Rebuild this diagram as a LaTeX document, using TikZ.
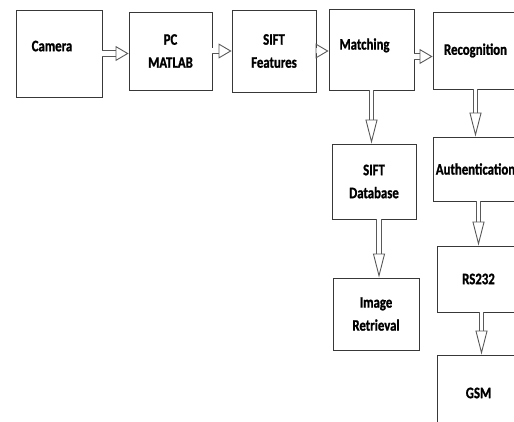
\documentclass[tikz,border=0pt]{standalone}
\usepackage{fontspec}
\newfontfamily\blockfont{Carlito Bold}[FakeStretch=0.8, FakeBold=1.2]
\usetikzlibrary{arrows.meta, positioning}
\definecolor{box_line}{rgb}{0.22, 0.22, 0.22}
\definecolor{arrow_line}{rgb}{0.35, 0.35, 0.35}

\begin{document}
\begin{tikzpicture}[x=1pt, y=-1pt,
    block/.style={draw=box_line, line width=0.9pt, rectangle, align=center, inner sep=0pt,
        font=\blockfont\fontsize{16}{23}\selectfont},
    harrow/.style={draw=arrow_line, line width=0.9pt, double, double distance=5pt,
        -{Triangle[open, length=13pt, width=15pt]}},
    varrow/.style={draw=arrow_line, line width=0.9pt, double, double distance=3.5pt,
        -{Triangle[open, length=24pt, width=12pt]}}]
    \useasboundingbox (0,0) rectangle (514,422);
    \clip (0,0) rectangle (514,422);
    % top row
    \node[block, minimum width=86pt, minimum height=87pt] (cam) at (59,53.5) {Camera\hspace*{14pt}\\[-8pt]};
    \node[block, minimum width=83pt, minimum height=78pt] (pc) at (170.5,51) {PC\\MATLAB};
    \node[block, minimum width=84pt, minimum height=82pt] (feat) at (274,51) {SIFT\\Features};
    \node[block, minimum width=85pt, minimum height=81pt] (match) at (371.5,49.5) {Matching\hspace*{14pt}\\[-12pt]};
    \node[block, minimum width=85pt, minimum height=77pt] (recog) at (475.5,50.5) {Recognition};
    % database branch
    \node[block, minimum width=84pt, minimum height=75pt] (db) at (374,181.5) {SIFT\\Database};
    \node[block, minimum width=86pt, minimum height=72pt] (ret) at (376,314) {Image\\Retrieval};
    % output branch
    \node[block, minimum width=85pt, minimum height=64pt] (auth) at (475.5,169) {Authentication};
    \node[block, minimum width=83pt, minimum height=66pt] (rs) at (478.5,279) {RS232};
    \node[block, minimum width=83pt, minimum height=76pt] (gsm) at (478.5,393) {GSM};

    \draw[harrow] (cam.east) -- (pc.west |- cam.east);
    \draw[harrow] (pc.east) -- (feat.west |- pc.east);
    \draw[harrow] (feat.east) -- (match.west |- feat.east);
    \draw[harrow] ([yshift=-7pt]match.east) -- ([yshift=-7pt]match.east -| recog.west);
    \draw[varrow] (match.south) -- (match.south |- db.north);
    \draw[varrow] ([xshift=5pt]db.south) -- ([xshift=5pt]db.south |- ret.north);
    \draw[varrow] (recog.south) -- (recog.south |- auth.north);
    \draw[varrow] ([xshift=3pt]auth.south) -- ([xshift=3pt]auth.south |- rs.north);
    \draw[varrow] ([xshift=3pt]rs.south) -- ([xshift=3pt]rs.south |- gsm.north);
\end{tikzpicture}
\end{document}
